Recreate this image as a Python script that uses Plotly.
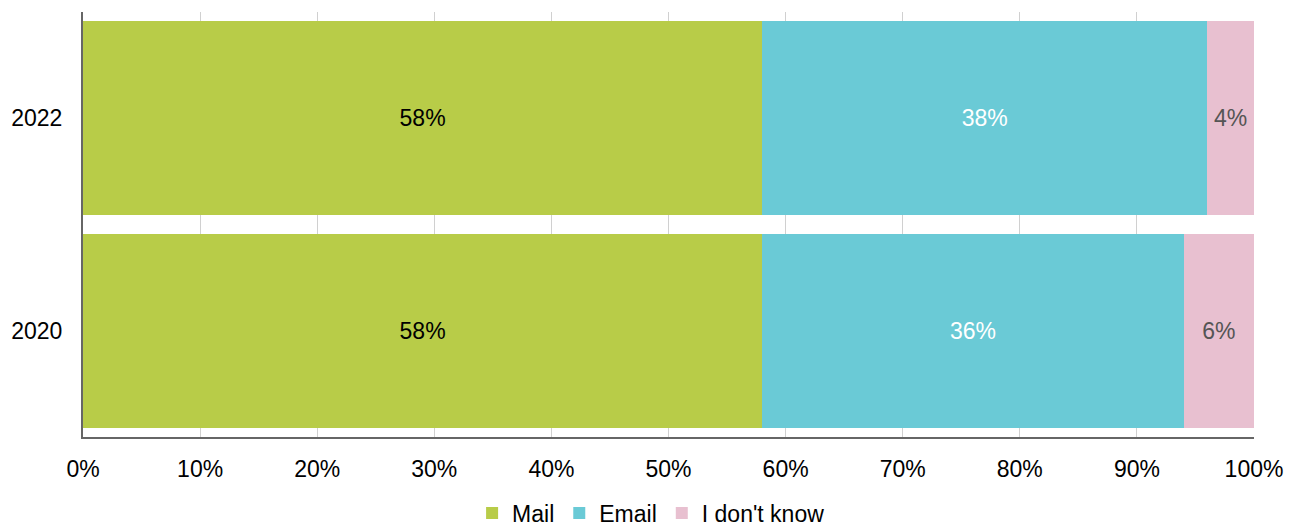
import plotly.graph_objects as go

# Survey responses by year (percent)
years = ["2020", "2022"]
mail = [58, 58]
email = [36, 38]
dont_know = [6, 4]

series_names = ["Mail", "Email", "I don't know"]
series_values = [mail, email, dont_know]
series_colors = ["#b8cc48", "#6acad6", "#e8c0d0"]
label_colors = ["#000000", "#ffffff", "#555555"]

tick_values = list(range(0, 101, 10))
tick_labels = [f"{v}%" for v in tick_values]

font_family = "Liberation Sans, Arial, sans-serif"
font_size = 23

fig = go.Figure()
for name, vals, col, lcol in zip(series_names, series_values, series_colors, label_colors):
    fig.add_trace(go.Bar(
        y=years,
        x=vals,
        name=name,
        orientation="h",
        marker=dict(color=col, line=dict(width=0)),
        text=[f"{v}%" for v in vals],
        textposition="inside",
        insidetextanchor="middle",
        textfont=dict(color=lcol, size=font_size, family=font_family),
        constraintext="none",
    ))

fig.update_layout(
    barmode="stack",
    bargap=0.085,
    width=1297,
    height=530,
    margin=dict(l=83, r=43, t=12, b=93, autoexpand=False),
    paper_bgcolor="white",
    plot_bgcolor="white",
    font=dict(family=font_family, size=font_size, color="#000000"),
    showlegend=True,
    legend=dict(
        orientation="h",
        x=0.502, xanchor="center", xref="container",
        y=0.032, yanchor="middle", yref="container",
        font=dict(size=font_size, color="#000000"),
        itemwidth=30,
        tracegroupgap=0,
        traceorder="normal",
    ),
    uniformtext=dict(mode=False),
)

fig.update_xaxes(
    range=[0, 100],
    tickmode="array",
    tickvals=tick_values,
    ticktext=tick_labels,
    showgrid=True,
    gridcolor="#d0d0d0",
    gridwidth=1,
    showline=True,
    linecolor="#666666",
    linewidth=2,
    zeroline=False,
    ticks="",
    ticklabelstandoff=10,
    tickfont=dict(size=font_size),
    automargin=False,
)
fig.update_yaxes(
    showline=True,
    linecolor="#666666",
    linewidth=2,
    showgrid=False,
    ticks="",
    ticklabelstandoff=14,
    tickfont=dict(size=font_size),
    automargin=False,
)

fig.write_html("out.html")
